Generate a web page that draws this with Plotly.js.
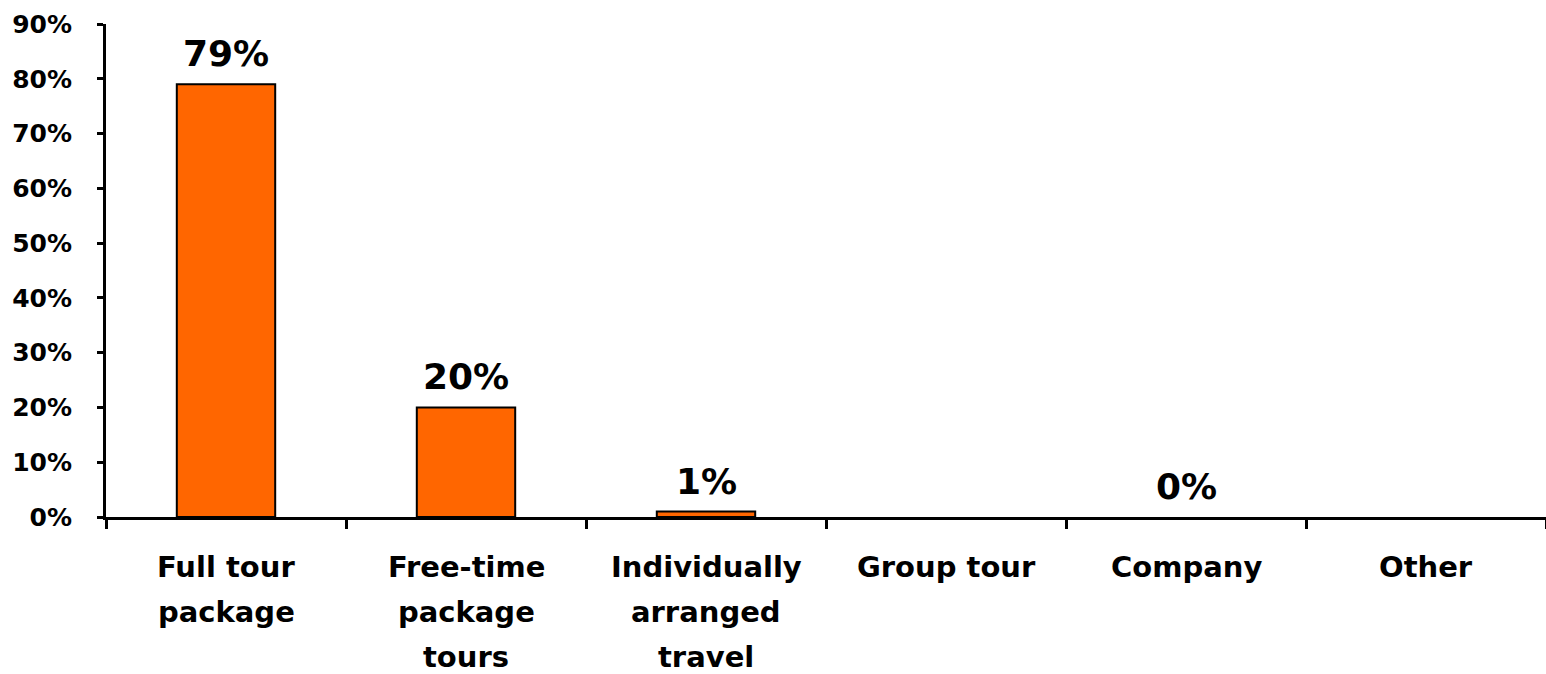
<!DOCTYPE html>
<html>
<head>
<meta charset="utf-8">
<script src="https://cdn.plot.ly/plotly-3.0.1.min.js"></script>
<style>html,body{margin:0;padding:0;background:#fff;}#chart{width:1546px;height:674px;}</style>
</head>
<body>
<div id="chart"></div>
<script>
const categories = ["Full tour<br>package", "Free-time<br>package<br>tours", "Individually<br>arranged<br>travel", "Group tour", "Company", "Other"];
const values = [79, 20, 1, 0, 0, 0];
const labels = ["79%", "20%", "1%", "", "0%", ""];
const yTickVals = [0, 10, 20, 30, 40, 50, 60, 70, 80, 90];
const yTickText = ["0%", "10%", "20%", "30%", "40%", "50%", "60%", "70%", "80%", "90%"];

const font = "'DejaVu Sans', sans-serif";

const annotations = [];
categories.forEach((c, i) => {
  c.split("<br>").forEach((line, j) => {
    annotations.push({
      xref: "x", yref: "paper", x: c, y: 0,
      xanchor: "center", yanchor: "middle",
      yshift: -(50 + j * 45),
      text: line, showarrow: false,
      font: {family: font, size: 29, color: "#000", weight: 700}
    });
  });
  if (labels[i]) {
    annotations.push({
      xref: "x", yref: "y", x: c, y: values[i],
      xanchor: "center", yanchor: "bottom",
      yshift: 8,
      text: labels[i], showarrow: false,
      font: {family: font, size: 36, color: "#000", weight: 700}
    });
  }
});

Plotly.newPlot("chart", [{
  type: "bar",
  x: categories,
  y: values,
  marker: {color: "#FF6600", line: {color: "#000", width: values.map(v => v > 0 ? 2 : 0)}},
  width: 0.41,
  hoverinfo: "skip"
}], {
  width: 1546, height: 674,
  margin: {l: 106, r: 0, t: 24, b: 157},
  paper_bgcolor: "#fff", plot_bgcolor: "#fff",
  showlegend: false,
  font: {family: font, color: "#000"},
  annotations: annotations,
  xaxis: {
    type: "category",
    showline: true, linecolor: "#000", linewidth: 3,
    ticks: "outside", tickson: "boundaries", ticklen: 9, tickwidth: 3, tickcolor: "#000",
    showticklabels: false,
    showgrid: false, zeroline: false
  },
  yaxis: {
    range: [0, 90],
    tickvals: yTickVals, ticktext: yTickText,
    showline: true, linecolor: "#000", linewidth: 3,
    ticks: "outside", ticklen: 6, tickwidth: 3, tickcolor: "#000",
    ticklabelstandoff: 20,
    tickfont: {family: font, size: 25, color: "#000", weight: 700},
    showgrid: false, zeroline: false
  }
}, {staticPlot: true});
</script>
</body>
</html>
